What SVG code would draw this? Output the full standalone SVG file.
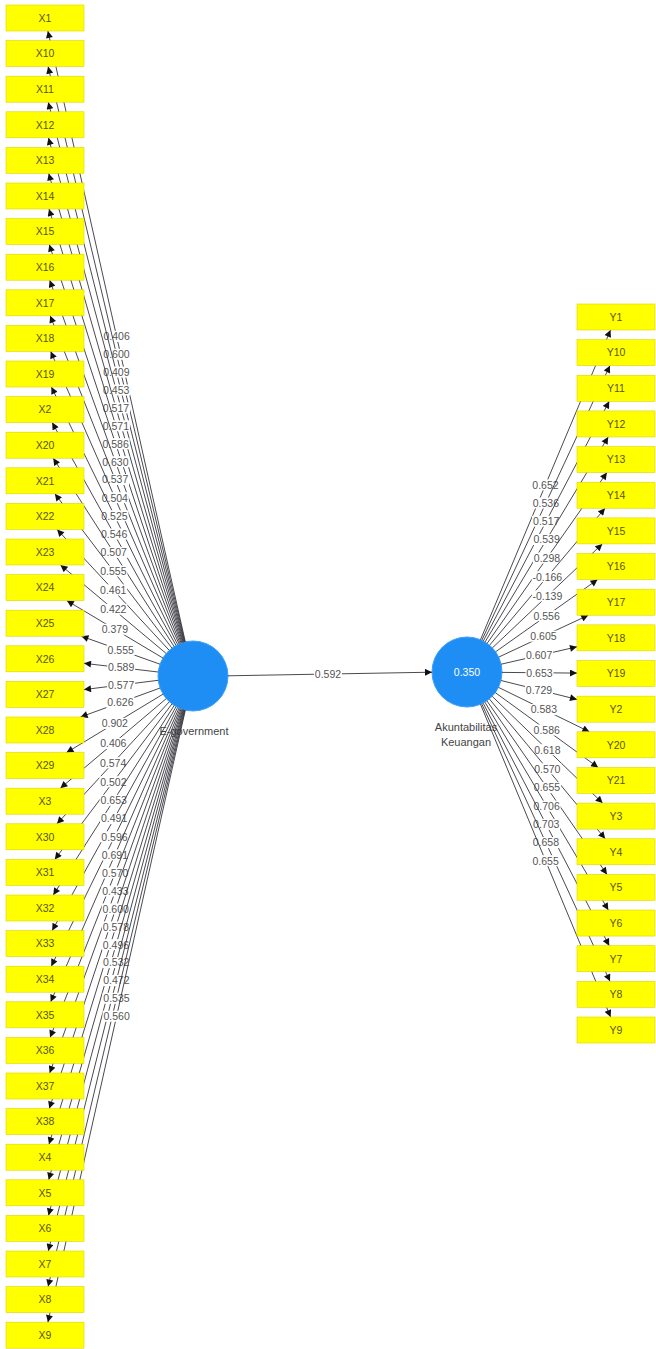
<svg xmlns="http://www.w3.org/2000/svg" width="656" height="1349" viewBox="0 0 656 1349">
<style>
.ln{stroke:#34343c;stroke-width:0.9;fill:none;marker-end:url(#ah)}
.lb{font-family:"Liberation Sans",Arial,sans-serif;font-size:10.5px;fill:#555;text-anchor:middle}
.bg{fill:#fff}
.box{fill:#ffff00;stroke:#dcd400;stroke-width:0.6}
.bt{font-family:"Liberation Sans",Arial,sans-serif;font-size:10.5px;fill:#5a5410;text-anchor:middle}
.lv{fill:#1e8ef5;stroke:#3aa0ff;stroke-width:1}
.nl{font-family:"Liberation Sans",Arial,sans-serif;font-size:11px;fill:#444;text-anchor:middle}
</style>
<defs>
<marker id="ah" viewBox="0 0 10 10" refX="10" refY="5" markerWidth="8" markerHeight="7" orient="auto" markerUnits="userSpaceOnUse"><path d="M0,0 L10,5 L0,10 z" fill="#111"/></marker>
</defs>
<rect width="656" height="1349" fill="#fff"/>
<g id="Egovernment"><circle class="lv" cx="193" cy="676" r="35"/><text class="nl" x="194" y="735">E-government</text></g>
<g id="Akuntabilitas"><circle class="lv" cx="467" cy="672" r="35"/><text x="467" y="675.8" style="font-family:'Liberation Sans',Arial,sans-serif;font-size:10.5px;fill:#fff;text-anchor:middle">0.350</text><text class="nl" x="466" y="731">Akuntabilitas</text><text class="nl" x="466" y="746">Keuangan</text></g>
<g id="connectors">
<g><line class="ln" x1="185.3" y1="641.9" x2="47.9" y2="31"/><rect class="bg" x="102.6" y="330.9" width="28" height="11"/><text class="lb" x="116.6" y="340.2">0.406</text></g>
<g><line class="ln" x1="184.9" y1="642.0" x2="48.1" y2="66.6"/><rect class="bg" x="102.5" y="348.8" width="28" height="11"/><text class="lb" x="116.5" y="358.1">0.600</text></g>
<g><line class="ln" x1="184.4" y1="642.1" x2="48.3" y2="102.2"/><rect class="bg" x="102.4" y="366.6" width="28" height="11"/><text class="lb" x="116.4" y="375.9">0.409</text></g>
<g><line class="ln" x1="183.9" y1="642.2" x2="48.5" y2="137.8"/><rect class="bg" x="102.2" y="384.5" width="28" height="11"/><text class="lb" x="116.2" y="393.8">0.453</text></g>
<g><line class="ln" x1="183.3" y1="642.4" x2="48.7" y2="173.4"/><rect class="bg" x="102.0" y="402.4" width="28" height="11"/><text class="lb" x="116.0" y="411.7">0.517</text></g>
<g><line class="ln" x1="182.7" y1="642.6" x2="49.0" y2="209"/><rect class="bg" x="101.9" y="420.3" width="28" height="11"/><text class="lb" x="115.9" y="429.6">0.571</text></g>
<g><line class="ln" x1="181.9" y1="642.8" x2="49.3" y2="244.6"/><rect class="bg" x="101.6" y="438.2" width="28" height="11"/><text class="lb" x="115.6" y="447.5">0.586</text></g>
<g><line class="ln" x1="181.1" y1="643.1" x2="49.7" y2="280.2"/><rect class="bg" x="101.4" y="456.2" width="28" height="11"/><text class="lb" x="115.4" y="465.5">0.630</text></g>
<g><line class="ln" x1="180.1" y1="643.5" x2="50.2" y2="315.8"/><rect class="bg" x="101.1" y="474.1" width="28" height="11"/><text class="lb" x="115.1" y="483.4">0.537</text></g>
<g><line class="ln" x1="179.0" y1="643.9" x2="50.7" y2="351.4"/><rect class="bg" x="100.8" y="492.2" width="28" height="11"/><text class="lb" x="114.8" y="501.5">0.504</text></g>
<g><line class="ln" x1="177.6" y1="644.6" x2="51.4" y2="387"/><rect class="bg" x="100.5" y="510.3" width="28" height="11"/><text class="lb" x="114.5" y="519.6">0.525</text></g>
<g><line class="ln" x1="176.0" y1="645.4" x2="52.2" y2="422.6"/><rect class="bg" x="100.1" y="528.5" width="28" height="11"/><text class="lb" x="114.1" y="537.8">0.546</text></g>
<g><line class="ln" x1="174.1" y1="646.5" x2="53.3" y2="458.2"/><rect class="bg" x="99.7" y="546.9" width="28" height="11"/><text class="lb" x="113.7" y="556.2">0.507</text></g>
<g><line class="ln" x1="171.9" y1="648.1" x2="54.9" y2="493.8"/><rect class="bg" x="99.4" y="565.5" width="28" height="11"/><text class="lb" x="113.4" y="574.8">0.555</text></g>
<g><line class="ln" x1="169.2" y1="650.3" x2="57.1" y2="529.4"/><rect class="bg" x="99.2" y="584.4" width="28" height="11"/><text class="lb" x="113.2" y="593.7">0.461</text></g>
<g><line class="ln" x1="166.2" y1="653.5" x2="60.5" y2="565"/><rect class="bg" x="99.3" y="603.8" width="28" height="11"/><text class="lb" x="113.3" y="613.1">0.422</text></g>
<g><line class="ln" x1="163.0" y1="658.1" x2="66.8" y2="600.6"/><rect class="bg" x="100.9" y="623.8" width="28" height="11"/><text class="lb" x="114.9" y="633.1">0.379</text></g>
<g><line class="ln" x1="160.0" y1="664.2" x2="81.4" y2="636.2"/><rect class="bg" x="106.7" y="644.7" width="28" height="11"/><text class="lb" x="120.7" y="654.0">0.555</text></g>
<g><line class="ln" x1="158.2" y1="672.0" x2="84" y2="663.3"/><rect class="bg" x="107.1" y="662.1" width="28" height="11"/><text class="lb" x="121.1" y="671.4">0.589</text></g>
<g><line class="ln" x1="158.3" y1="680.3" x2="84" y2="689.6"/><rect class="bg" x="107.1" y="679.5" width="28" height="11"/><text class="lb" x="121.1" y="688.8">0.577</text></g>
<g><line class="ln" x1="160.1" y1="688.0" x2="80.6" y2="717"/><rect class="bg" x="106.4" y="697.0" width="28" height="11"/><text class="lb" x="120.4" y="706.3">0.626</text></g>
<g><line class="ln" x1="163.1" y1="694.1" x2="66.5" y2="752.6"/><rect class="bg" x="100.8" y="717.9" width="28" height="11"/><text class="lb" x="114.8" y="727.2">0.902</text></g>
<g><line class="ln" x1="166.3" y1="698.6" x2="60.4" y2="788.2"/><rect class="bg" x="99.3" y="737.9" width="28" height="11"/><text class="lb" x="113.3" y="747.2">0.406</text></g>
<g><line class="ln" x1="169.3" y1="701.8" x2="57.0" y2="823.8"/><rect class="bg" x="99.1" y="757.3" width="28" height="11"/><text class="lb" x="113.1" y="766.6">0.574</text></g>
<g><line class="ln" x1="171.9" y1="704.0" x2="54.8" y2="859.4"/><rect class="bg" x="99.4" y="776.2" width="28" height="11"/><text class="lb" x="113.4" y="785.5">0.502</text></g>
<g><line class="ln" x1="174.2" y1="705.5" x2="53.3" y2="895"/><rect class="bg" x="99.7" y="794.8" width="28" height="11"/><text class="lb" x="113.7" y="804.1">0.653</text></g>
<g><line class="ln" x1="176.1" y1="706.6" x2="52.2" y2="930.6"/><rect class="bg" x="100.1" y="813.1" width="28" height="11"/><text class="lb" x="114.1" y="822.4">0.491</text></g>
<g><line class="ln" x1="177.6" y1="707.5" x2="51.3" y2="966.2"/><rect class="bg" x="100.5" y="831.3" width="28" height="11"/><text class="lb" x="114.5" y="840.6">0.596</text></g>
<g><line class="ln" x1="179.0" y1="708.1" x2="50.7" y2="1001.8"/><rect class="bg" x="100.9" y="849.4" width="28" height="11"/><text class="lb" x="114.9" y="858.7">0.691</text></g>
<g><line class="ln" x1="180.1" y1="708.6" x2="50.1" y2="1037.4"/><rect class="bg" x="101.1" y="867.5" width="28" height="11"/><text class="lb" x="115.1" y="876.8">0.570</text></g>
<g><line class="ln" x1="181.1" y1="708.9" x2="49.7" y2="1073"/><rect class="bg" x="101.4" y="885.5" width="28" height="11"/><text class="lb" x="115.4" y="894.8">0.433</text></g>
<g><line class="ln" x1="182.0" y1="709.2" x2="49.3" y2="1108.6"/><rect class="bg" x="101.7" y="903.4" width="28" height="11"/><text class="lb" x="115.7" y="912.7">0.600</text></g>
<g><line class="ln" x1="182.7" y1="709.5" x2="49.0" y2="1144.2"/><rect class="bg" x="101.9" y="921.4" width="28" height="11"/><text class="lb" x="115.9" y="930.7">0.578</text></g>
<g><line class="ln" x1="183.4" y1="709.6" x2="48.7" y2="1179.8"/><rect class="bg" x="102.0" y="939.2" width="28" height="11"/><text class="lb" x="116.0" y="948.5">0.496</text></g>
<g><line class="ln" x1="183.9" y1="709.8" x2="48.5" y2="1215.4"/><rect class="bg" x="102.2" y="957.1" width="28" height="11"/><text class="lb" x="116.2" y="966.4">0.532</text></g>
<g><line class="ln" x1="184.5" y1="709.9" x2="48.3" y2="1251"/><rect class="bg" x="102.4" y="975.0" width="28" height="11"/><text class="lb" x="116.4" y="984.3">0.472</text></g>
<g><line class="ln" x1="184.9" y1="710.1" x2="48.1" y2="1286.6"/><rect class="bg" x="102.5" y="992.8" width="28" height="11"/><text class="lb" x="116.5" y="1002.1">0.535</text></g>
<g><line class="ln" x1="185.3" y1="710.2" x2="47.9" y2="1322.2"/><rect class="bg" x="102.6" y="1010.7" width="28" height="11"/><text class="lb" x="116.6" y="1020.0">0.560</text></g>

<g><line class="ln" x1="480.5" y1="639.7" x2="610.5" y2="330"/><rect class="bg" x="531.5" y="479.4" width="28" height="11"/><text class="lb" x="545.5" y="488.7">0.652</text></g>
<g><line class="ln" x1="481.8" y1="640.3" x2="609.9" y2="365.65"/><rect class="bg" x="531.9" y="497.5" width="28" height="11"/><text class="lb" x="545.9" y="506.8">0.536</text></g>
<g><line class="ln" x1="483.3" y1="641.0" x2="609.2" y2="401.3"/><rect class="bg" x="532.2" y="515.7" width="28" height="11"/><text class="lb" x="546.2" y="525.0">0.517</text></g>
<g><line class="ln" x1="485.0" y1="642.0" x2="608.2" y2="436.95"/><rect class="bg" x="532.6" y="534.0" width="28" height="11"/><text class="lb" x="546.6" y="543.3">0.539</text></g>
<g><line class="ln" x1="487.1" y1="643.4" x2="606.9" y2="472.6"/><rect class="bg" x="533.0" y="552.5" width="28" height="11"/><text class="lb" x="547.0" y="561.8">0.298</text></g>
<g><line class="ln" x1="489.6" y1="645.2" x2="605.0" y2="508.25"/><rect class="bg" x="531.8" y="571.2" width="31" height="11"/><text class="lb" x="547.3" y="580.5">-0.166</text></g>
<g><line class="ln" x1="492.4" y1="647.9" x2="602.3" y2="543.9"/><rect class="bg" x="531.9" y="590.4" width="31" height="11"/><text class="lb" x="547.4" y="599.7">-0.139</text></g>
<g><line class="ln" x1="495.6" y1="651.8" x2="597.6" y2="579.55"/><rect class="bg" x="532.6" y="610.2" width="28" height="11"/><text class="lb" x="546.6" y="619.5">0.556</text></g>
<g><line class="ln" x1="498.7" y1="657.1" x2="588.3" y2="615.2"/><rect class="bg" x="529.5" y="630.7" width="28" height="11"/><text class="lb" x="543.5" y="640.0">0.605</text></g>
<g><line class="ln" x1="501.1" y1="664.2" x2="577" y2="646.8"/><rect class="bg" x="525.1" y="650.0" width="28" height="11"/><text class="lb" x="539.1" y="659.3">0.607</text></g>
<g><line class="ln" x1="502.0" y1="672.4" x2="577" y2="673.1"/><rect class="bg" x="525.5" y="667.2" width="28" height="11"/><text class="lb" x="539.5" y="676.5">0.653</text></g>
<g><line class="ln" x1="501.0" y1="680.5" x2="577" y2="699.4"/><rect class="bg" x="525.0" y="684.5" width="28" height="11"/><text class="lb" x="539.0" y="693.8">0.729</text></g>
<g><line class="ln" x1="498.5" y1="687.4" x2="589.4" y2="731.8"/><rect class="bg" x="529.9" y="704.1" width="28" height="11"/><text class="lb" x="543.9" y="713.4">0.583</text></g>
<g><line class="ln" x1="495.3" y1="692.6" x2="598.1" y2="767.45"/><rect class="bg" x="532.7" y="724.5" width="28" height="11"/><text class="lb" x="546.7" y="733.8">0.586</text></g>
<g><line class="ln" x1="492.2" y1="696.3" x2="602.6" y2="803.1"/><rect class="bg" x="533.4" y="744.2" width="28" height="11"/><text class="lb" x="547.4" y="753.5">0.618</text></g>
<g><line class="ln" x1="489.3" y1="698.9" x2="605.2" y2="838.75"/><rect class="bg" x="533.3" y="763.3" width="28" height="11"/><text class="lb" x="547.3" y="772.6">0.570</text></g>
<g><line class="ln" x1="486.9" y1="700.8" x2="607.0" y2="874.4"/><rect class="bg" x="533.0" y="782.1" width="28" height="11"/><text class="lb" x="547.0" y="791.4">0.655</text></g>
<g><line class="ln" x1="484.9" y1="702.1" x2="608.3" y2="910.05"/><rect class="bg" x="532.6" y="800.6" width="28" height="11"/><text class="lb" x="546.6" y="809.9">0.706</text></g>
<g><line class="ln" x1="483.1" y1="703.1" x2="609.2" y2="945.7"/><rect class="bg" x="532.2" y="818.9" width="28" height="11"/><text class="lb" x="546.2" y="828.2">0.703</text></g>
<g><line class="ln" x1="481.7" y1="703.8" x2="610.0" y2="981.35"/><rect class="bg" x="531.9" y="837.1" width="28" height="11"/><text class="lb" x="545.9" y="846.4">0.658</text></g>
<g><line class="ln" x1="480.5" y1="704.3" x2="610.6" y2="1017"/><rect class="bg" x="531.6" y="855.2" width="28" height="11"/><text class="lb" x="545.6" y="864.5">0.655</text></g>

<g><line class="ln" x1="228" y1="675.8" x2="432" y2="672.2"/><rect class="bg" x="314" y="668.3" width="28" height="11"/><text class="lb" x="328" y="677.6">0.592</text></g>
</g>

<g id="X1"><rect class="box" x="6" y="5" width="78" height="26"/><text class="bt" x="45" y="21.8">X1</text></g>
<g id="X10"><rect class="box" x="6" y="40.6" width="78" height="26"/><text class="bt" x="45" y="57.4">X10</text></g>
<g id="X11"><rect class="box" x="6" y="76.2" width="78" height="26"/><text class="bt" x="45" y="93">X11</text></g>
<g id="X12"><rect class="box" x="6" y="111.8" width="78" height="26"/><text class="bt" x="45" y="128.6">X12</text></g>
<g id="X13"><rect class="box" x="6" y="147.4" width="78" height="26"/><text class="bt" x="45" y="164.2">X13</text></g>
<g id="X14"><rect class="box" x="6" y="183" width="78" height="26"/><text class="bt" x="45" y="199.8">X14</text></g>
<g id="X15"><rect class="box" x="6" y="218.6" width="78" height="26"/><text class="bt" x="45" y="235.4">X15</text></g>
<g id="X16"><rect class="box" x="6" y="254.2" width="78" height="26"/><text class="bt" x="45" y="271">X16</text></g>
<g id="X17"><rect class="box" x="6" y="289.8" width="78" height="26"/><text class="bt" x="45" y="306.6">X17</text></g>
<g id="X18"><rect class="box" x="6" y="325.4" width="78" height="26"/><text class="bt" x="45" y="342.2">X18</text></g>
<g id="X19"><rect class="box" x="6" y="361" width="78" height="26"/><text class="bt" x="45" y="377.8">X19</text></g>
<g id="X2"><rect class="box" x="6" y="396.6" width="78" height="26"/><text class="bt" x="45" y="413.4">X2</text></g>
<g id="X20"><rect class="box" x="6" y="432.2" width="78" height="26"/><text class="bt" x="45" y="449">X20</text></g>
<g id="X21"><rect class="box" x="6" y="467.8" width="78" height="26"/><text class="bt" x="45" y="484.6">X21</text></g>
<g id="X22"><rect class="box" x="6" y="503.4" width="78" height="26"/><text class="bt" x="45" y="520.2">X22</text></g>
<g id="X23"><rect class="box" x="6" y="539" width="78" height="26"/><text class="bt" x="45" y="555.8">X23</text></g>
<g id="X24"><rect class="box" x="6" y="574.6" width="78" height="26"/><text class="bt" x="45" y="591.4">X24</text></g>
<g id="X25"><rect class="box" x="6" y="610.2" width="78" height="26"/><text class="bt" x="45" y="627">X25</text></g>
<g id="X26"><rect class="box" x="6" y="645.8" width="78" height="26"/><text class="bt" x="45" y="662.6">X26</text></g>
<g id="X27"><rect class="box" x="6" y="681.4" width="78" height="26"/><text class="bt" x="45" y="698.2">X27</text></g>
<g id="X28"><rect class="box" x="6" y="717" width="78" height="26"/><text class="bt" x="45" y="733.8">X28</text></g>
<g id="X29"><rect class="box" x="6" y="752.6" width="78" height="26"/><text class="bt" x="45" y="769.4">X29</text></g>
<g id="X3"><rect class="box" x="6" y="788.2" width="78" height="26"/><text class="bt" x="45" y="805">X3</text></g>
<g id="X30"><rect class="box" x="6" y="823.8" width="78" height="26"/><text class="bt" x="45" y="840.6">X30</text></g>
<g id="X31"><rect class="box" x="6" y="859.4" width="78" height="26"/><text class="bt" x="45" y="876.2">X31</text></g>
<g id="X32"><rect class="box" x="6" y="895" width="78" height="26"/><text class="bt" x="45" y="911.8">X32</text></g>
<g id="X33"><rect class="box" x="6" y="930.6" width="78" height="26"/><text class="bt" x="45" y="947.4">X33</text></g>
<g id="X34"><rect class="box" x="6" y="966.2" width="78" height="26"/><text class="bt" x="45" y="983">X34</text></g>
<g id="X35"><rect class="box" x="6" y="1001.8" width="78" height="26"/><text class="bt" x="45" y="1018.6">X35</text></g>
<g id="X36"><rect class="box" x="6" y="1037.4" width="78" height="26"/><text class="bt" x="45" y="1054.2">X36</text></g>
<g id="X37"><rect class="box" x="6" y="1073" width="78" height="26"/><text class="bt" x="45" y="1089.8">X37</text></g>
<g id="X38"><rect class="box" x="6" y="1108.6" width="78" height="26"/><text class="bt" x="45" y="1125.4">X38</text></g>
<g id="X4"><rect class="box" x="6" y="1144.2" width="78" height="26"/><text class="bt" x="45" y="1161">X4</text></g>
<g id="X5"><rect class="box" x="6" y="1179.8" width="78" height="26"/><text class="bt" x="45" y="1196.6">X5</text></g>
<g id="X6"><rect class="box" x="6" y="1215.4" width="78" height="26"/><text class="bt" x="45" y="1232.2">X6</text></g>
<g id="X7"><rect class="box" x="6" y="1251" width="78" height="26"/><text class="bt" x="45" y="1267.8">X7</text></g>
<g id="X8"><rect class="box" x="6" y="1286.6" width="78" height="26"/><text class="bt" x="45" y="1303.4">X8</text></g>
<g id="X9"><rect class="box" x="6" y="1322.2" width="78" height="26"/><text class="bt" x="45" y="1339">X9</text></g>

<g id="Y1"><rect class="box" x="577" y="304" width="78" height="26"/><text class="bt" x="616" y="320.8">Y1</text></g>
<g id="Y10"><rect class="box" x="577" y="339.65" width="78" height="26"/><text class="bt" x="616" y="356.45">Y10</text></g>
<g id="Y11"><rect class="box" x="577" y="375.3" width="78" height="26"/><text class="bt" x="616" y="392.1">Y11</text></g>
<g id="Y12"><rect class="box" x="577" y="410.95" width="78" height="26"/><text class="bt" x="616" y="427.75">Y12</text></g>
<g id="Y13"><rect class="box" x="577" y="446.6" width="78" height="26"/><text class="bt" x="616" y="463.4">Y13</text></g>
<g id="Y14"><rect class="box" x="577" y="482.25" width="78" height="26"/><text class="bt" x="616" y="499.05">Y14</text></g>
<g id="Y15"><rect class="box" x="577" y="517.9" width="78" height="26"/><text class="bt" x="616" y="534.7">Y15</text></g>
<g id="Y16"><rect class="box" x="577" y="553.55" width="78" height="26"/><text class="bt" x="616" y="570.35">Y16</text></g>
<g id="Y17"><rect class="box" x="577" y="589.2" width="78" height="26"/><text class="bt" x="616" y="606">Y17</text></g>
<g id="Y18"><rect class="box" x="577" y="624.85" width="78" height="26"/><text class="bt" x="616" y="641.65">Y18</text></g>
<g id="Y19"><rect class="box" x="577" y="660.5" width="78" height="26"/><text class="bt" x="616" y="677.3">Y19</text></g>
<g id="Y2"><rect class="box" x="577" y="696.15" width="78" height="26"/><text class="bt" x="616" y="712.95">Y2</text></g>
<g id="Y20"><rect class="box" x="577" y="731.8" width="78" height="26"/><text class="bt" x="616" y="748.6">Y20</text></g>
<g id="Y21"><rect class="box" x="577" y="767.45" width="78" height="26"/><text class="bt" x="616" y="784.25">Y21</text></g>
<g id="Y3"><rect class="box" x="577" y="803.1" width="78" height="26"/><text class="bt" x="616" y="819.9">Y3</text></g>
<g id="Y4"><rect class="box" x="577" y="838.75" width="78" height="26"/><text class="bt" x="616" y="855.55">Y4</text></g>
<g id="Y5"><rect class="box" x="577" y="874.4" width="78" height="26"/><text class="bt" x="616" y="891.2">Y5</text></g>
<g id="Y6"><rect class="box" x="577" y="910.05" width="78" height="26"/><text class="bt" x="616" y="926.85">Y6</text></g>
<g id="Y7"><rect class="box" x="577" y="945.7" width="78" height="26"/><text class="bt" x="616" y="962.5">Y7</text></g>
<g id="Y8"><rect class="box" x="577" y="981.35" width="78" height="26"/><text class="bt" x="616" y="998.15">Y8</text></g>
<g id="Y9"><rect class="box" x="577" y="1017" width="78" height="26"/><text class="bt" x="616" y="1033.8">Y9</text></g>
</svg>
